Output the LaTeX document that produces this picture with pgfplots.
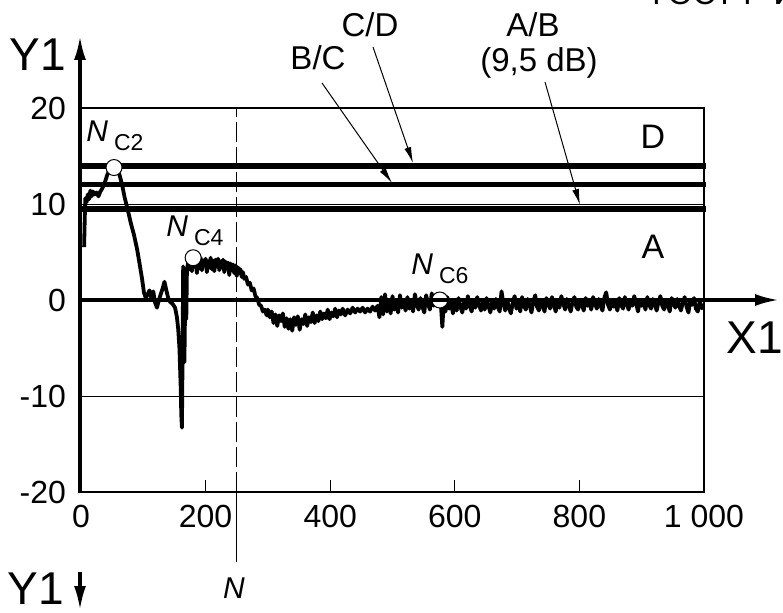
\documentclass[border=0pt]{standalone}
\usepackage{pgfplots}
\pgfplotsset{compat=1.18}
\usepackage{fontspec}
\setmainfont{Liberation Sans}
\usetikzlibrary{arrows.meta}

\begin{document}
\begin{tikzpicture}
\useasboundingbox (0,0) rectangle (391.5pt,306pt);
\begin{axis}[
  at={(40.5pt,60pt)}, anchor=south west,
  scale only axis, width=311.5pt, height=192pt,
  xmin=0, xmax=1000, ymin=-20, ymax=20,
  clip=false,
  axis line style={line width=0.6pt},
  xtick={0,200,400,600,800,1000},
  xticklabels={0,200,400,600,800,{1 000}},
  ytick={-20,-10,0,10,20},
  yticklabels={-20,-10,0,10,20},
  xtick pos=left, tick align=inside, major tick length=6pt,
  xtick style={line width=0.5pt, black},
  ytick style={draw=none},
  ymajorgrids, grid style={line width=0.5pt, black},
  ticklabel style={font=\fontsize{16}{16}\selectfont},
  xticklabel style={yshift=-3pt},
  yticklabel style={xshift=-4pt},
]
% thresholds
\addplot[line width=3pt, black] coordinates {(-5,14) (1003,14)};
\addplot[line width=2.4pt, black] coordinates {(-5,12) (1003,12)};
\addplot[line width=3.2pt, black] coordinates {(-5,9.5) (1003,9.5)};
% dashed vertical at N
\draw[line width=0.5pt, dash pattern=on 10pt off 2.5pt] (axis cs:250,-20) -- (axis cs:250,20);
% curve
\addplot[line width=1.9pt, black, line join=round, no marks] coordinates {
(5,5.5) (6,8.5) (7,10.6) (9,10.2) (11,11.0) (13,10.5) (15,11.4) (17,10.8) (19,11.3)
(22,11.0) (25,11.2) (28,10.8) (31,11.3) (34,11.6) (38,12.2) (42,13.0) (46,13.6)
(50,13.9) (54,14.0) (58,13.7) (62,13.0) (66,12.0) (70,10.7) (75,9.4) (80,8.0)
(85,6.8) (90,5.3) (94,3.8) (98,2.2) (101,0.8) (104,0.2) (107,0.6) (110,1.0)
(113,0.2) (116,0.9) (119,-0.3) (122,-0.8) (125,0.0) (128,0.6) (131,1.2) (134,1.9)
(137,1.0) (140,0.2) (143,-0.2) (147,-0.4) (151,-0.8) (154,-1.8) (156,-3.0)
(158,-5.0) (160,-9.0) (161,-12.0) (162,-13.3) (163,-6.0) (164,3.5) (165,-4.0)
(166,-6.5) (167,-1.0) (168,3.2) (169,-2.0) (170,3.0) (172,4.0)
(174,3.2) (176,4.3) (178,3.0) (180,4.4) (182,3.5) (184,4.2) (186,2.8) (188,4.0)
(190,3.3) (192,4.4) (194,3.1) (196,4.1) (198,3.6) (200,4.3) (202,2.9) (204,4.0)
(206,3.4) (208,4.4) (210,3.2) (212,4.1) (214,3.0) (216,4.2) (218,3.5) (220,4.3)
(222,3.1) (224,4.0) (226,3.4) (228,4.2) (230,2.9) (232,4.0) (234,3.3) (236,3.9)
(238,2.6) (240,3.8) (242,3.1) (244,3.7) (246,2.8) (248,3.6) (250,2.5) (252,3.4)
(254,2.8) (256,3.2) (258,2.4) (260,2.9) (262,2.2) (265,2.4) (268,1.6) (271,1.8)
(274,1.0) (277,1.2) (280,0.4) (283,0.2) (286,-0.5) (289,-0.6) (292,-1.2)
(295,-1.0) (298,-1.6)
(300,-1.0) (303,-1.8) (306,-1.2) (309,-2.4) (312,-1.5) (315,-2.7) (318,-1.6)
(321,-2.2) (324,-1.4) (327,-2.8) (330,-1.9) (333,-3.0) (336,-2.0) (339,-3.2)
(342,-1.8) (345,-2.6) (348,-1.7) (351,-3.1) (354,-2.0) (357,-2.5) (360,-1.5)
(363,-2.7) (366,-1.8) (369,-2.3) (372,-1.3) (375,-2.4) (378,-1.6) (381,-2.2)
(384,-1.2) (387,-2.0) (390,-1.4) (393,-1.9) (396,-1.0) (399,-2.0) (402,-1.3)
(405,-1.7) (408,-0.9) (411,-1.8) (414,-1.1) (417,-1.5) (420,-0.9) (424,-1.6)
(428,-1.0) (432,-1.4) (436,-0.8) (440,-1.3) (444,-0.9) (448,-1.2) (452,-0.8)
(456,-1.3) (460,-0.9) (464,-1.2) (468,-0.7) (472,-1.1) (476,-0.6) (479,-1.8)
(482,0.3) (485,-1.5) (488,0.6) (491,-1.2) (494,-0.2) (497,-1.4) (500,0.4)
(503,-1.0) (506,-0.1) (509,-1.3) (512,0.5) (515,-0.8) (518,-0.2) (521,-1.1)
(524,0.3) (527,-0.9) (530,-0.3) (533,-1.2) (536,0.6) (539,-0.5) (542,-1.0)
(545,0.2) (548,-0.7) (551,-1.3) (554,0.5) (557,-0.4) (560,-1.0) (563,0.7)
(566,-0.6) (569,0.2) (572,-0.5) (575,0.0) (578,-0.8) (580,-2.8) (582,-0.5)
(585,-1.2) (588,0.3) (591,-0.9) (594,-0.2) (597,-1.4) (600,-0.3)
(603,-1.1) (606,0.2) (609,-0.7) (612,-1.3) (615,-0.2) (618,-0.9) (621,0.4)
(624,-0.6) (627,-1.2) (630,-0.1) (633,-0.8) (636,0.3) (639,-0.5) (642,-1.1)
(645,-0.3) (648,-1.0) (651,0.2) (654,-0.6) (657,-1.3) (660,-0.2) (663,-0.9)
(666,0.1) (669,-0.7) (672,-1.2) (675,0.9) (678,-0.4) (681,-1.1) (684,0.0)
(687,-0.8) (690,-1.4) (693,-0.3) (696,0.4) (699,-0.9) (702,-0.2) (705,-1.2)
(708,0.3) (711,-0.6) (714,-1.0) (717,0.1) (720,-0.5) (723,-1.3) (726,-0.2)
(729,0.5) (732,-0.7) (735,-1.1) (738,0.0) (741,-0.6) (744,-1.2) (747,0.2)
(750,-0.4) (753,-0.9) (756,0.3) (759,-0.5) (762,-1.2) (765,-0.1) (768,-0.8)
(771,0.4) (774,-0.3) (777,-1.0) (780,0.1) (783,-0.6) (786,-1.2) (789,-0.2)
(792,0.3) (795,-0.7) (798,-1.0) (801,0.0) (804,-0.5) (807,-1.1) (810,0.2)
(813,-0.6) (816,-0.2) (819,-1.0) (822,0.3) (825,-0.4) (828,-0.9) (831,0.1)
(834,-0.6) (837,-1.1) (840,0.2) (843,0.8) (846,-0.5) (849,-1.0) (852,0.0)
(855,-0.7) (858,-0.3) (861,-1.1) (864,0.2) (867,-0.5) (870,-0.9) (873,0.3)
(876,-0.4) (879,-1.0) (882,-0.1) (885,-0.6) (888,0.4) (891,-0.3) (894,-1.2)
(897,0.0) (900,-0.6) (903,-0.2) (906,-1.0) (909,0.3) (912,-0.5) (915,-0.9)
(918,0.1) (921,-0.4) (924,-1.1) (927,-0.2) (930,0.4) (933,-0.6) (936,-1.0)
(939,0.0) (942,-0.5) (945,-1.2) (948,0.2) (951,-0.3) (954,-0.8) (957,0.1)
(960,-0.6) (963,-1.1) (966,-0.2) (969,0.3) (972,-0.7) (975,-1.3) (978,-0.1)
(981,-0.5) (984,0.2) (987,-0.9) (990,-1.2) (993,-0.2) (996,-0.6) (998,-1.0)
};
% characteristic points
\addplot[only marks, mark=*, mark size=4pt, mark options={fill=white, draw=black, line width=0.5pt}]
  coordinates {(53,13.8) (180,4.4) (576,0)};
\end{axis}

\begin{scope}[x=0.5pt, y=-0.5pt, yshift=306pt]
  % axes arrows
  \draw[line width=1.6pt, -{Latex[length=12pt,width=6pt]}] (80,493) -- (80,36);
  \draw[line width=1.6pt, -{Latex[length=12pt,width=6pt]}] (79,300) -- (779,300);
  \draw[line width=1.6pt, -{Latex[length=12pt,width=6pt]}] (80,572) -- (80,610);
  \draw[line width=0.5pt] (236.75,492) -- (236.75,562);
  % annotation arrows
  \draw[line width=0.5pt, -{Latex[length=8pt,width=3.5pt]}] (322,83) -- (392,183);
  \draw[line width=0.5pt, -{Latex[length=8pt,width=3.5pt]}] (373,47) -- (413,163);
  \draw[line width=0.5pt, -{Latex[length=8pt,width=3.5pt]}] (545,82) -- (580,205);
  % texts
  \node[font=\fontsize{23}{23}\selectfont, inner sep=0pt] at (38,55) {Y1};
  \node[font=\fontsize{23}{23}\selectfont, inner sep=0pt] at (36,589) {Y1};
  \node[font=\fontsize{23}{23}\selectfont, inner sep=0pt] at (755,338) {X1};
  \node[font=\fontsize{16.5}{16.5}\selectfont, inner sep=0pt] at (318,58) {B/C};
  \node[font=\fontsize{16.5}{16.5}\selectfont, inner sep=0pt] at (370,25) {C/D};
  \node[font=\fontsize{16.5}{16.5}\selectfont, inner sep=0pt] at (533,25) {A/B};
  \node[font=\fontsize{16.5}{16.5}\selectfont, inner sep=0pt] at (539,63) {(9,5 dB)};
  \node[font=\fontsize{17}{17}\selectfont, inner sep=0pt] at (653,137) {D};
  \node[font=\fontsize{17}{17}\selectfont, inner sep=0pt] at (653,247) {A};
  \node[font=\fontsize{15}{15}\selectfont\itshape, inner sep=0pt] at (234,588) {N};
  \node[font=\fontsize{15}{15}\selectfont, inner sep=0pt, anchor=base west] at (86,142)
    {\textit{N}\hspace{3pt}\raisebox{-4.5pt}{\fontsize{11.5}{11.5}\selectfont C2}};
  \node[font=\fontsize{15}{15}\selectfont, inner sep=0pt, anchor=base west] at (166,237)
    {\textit{N}\hspace{3pt}\raisebox{-4.5pt}{\fontsize{11.5}{11.5}\selectfont C4}};
  \node[font=\fontsize{15}{15}\selectfont, inner sep=0pt, anchor=base west] at (411,275)
    {\textit{N}\hspace{3pt}\raisebox{-4.5pt}{\fontsize{11.5}{11.5}\selectfont C6}};
  \node[font=\fontsize{16}{16}\selectfont, inner sep=0pt, anchor=base west] at (652,5) {ГОСТ Р ИСО};
\end{scope}
\end{tikzpicture}
\end{document}
